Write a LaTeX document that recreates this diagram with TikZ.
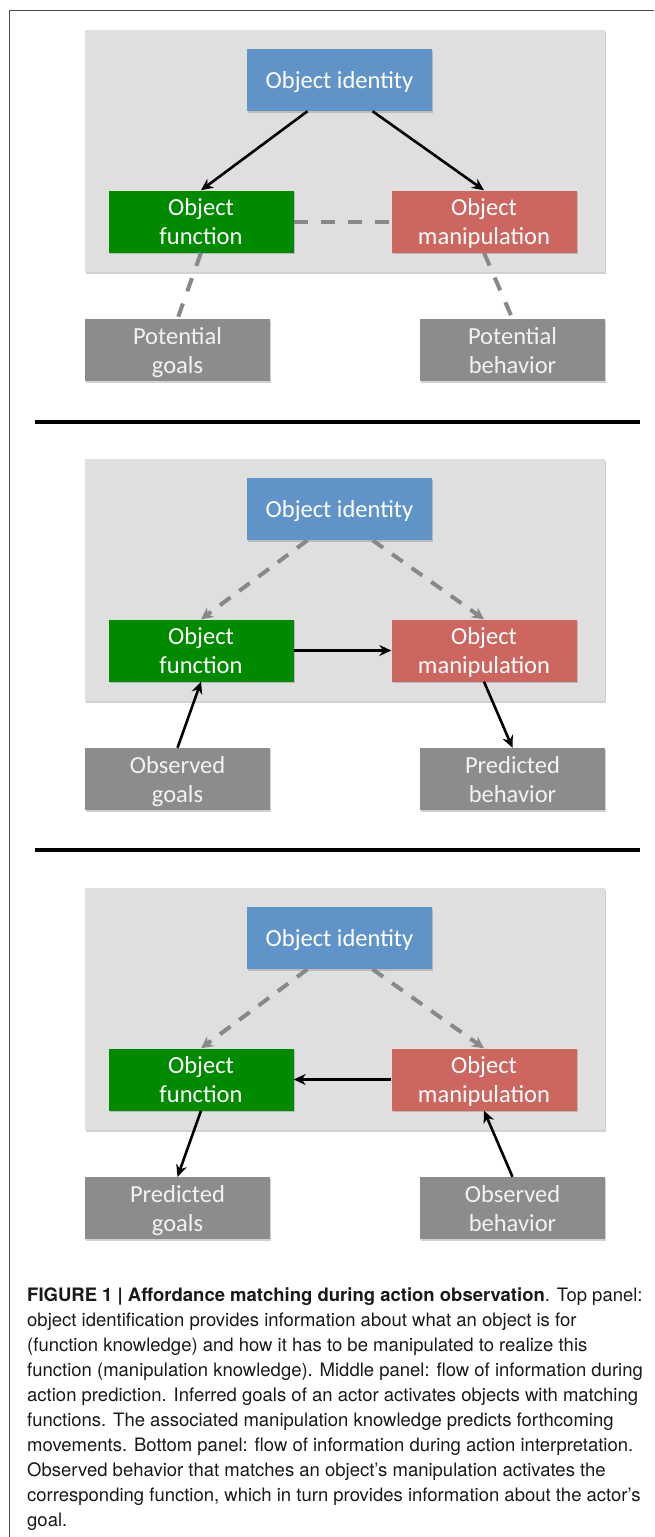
\documentclass[tikz,border=0pt]{standalone}
\usepackage{fontspec}
\setmainfont{Carlito}
\newfontfamily\capfont{TeX Gyre Heros}
\usetikzlibrary{positioning,arrows.meta,shadows}

\definecolor{identblue}{RGB}{96,148,201}
\definecolor{funcgreen}{RGB}{0,138,0}
\definecolor{manipered}{RGB}{205,102,95}
\definecolor{outgray}{RGB}{140,140,140}
\definecolor{panelgray}{RGB}{223,223,223}
\definecolor{dashgray}{RGB}{136,136,136}

\begin{document}
\begin{tikzpicture}[x=1pt,y=-1pt,
			panel/.style={rectangle, fill=panelgray, minimum width=520pt, minimum height=242pt, inner sep=0pt,
				drop shadow={shadow xshift=0.5pt, shadow yshift=-1.5pt, opacity=0.3, fill=black!60}},
			box/.style={rectangle, minimum width=185pt, minimum height=62pt, inner sep=0pt, align=center,
				text depth=0pt, text=white, font=\fontsize{24.5}{29}\selectfont,
				drop shadow={shadow xshift=1pt, shadow yshift=-1.5pt, opacity=0.3, fill=black!60}},
			identity/.style={box, fill=identblue},
			function/.style={box, fill=funcgreen},
			manipulation/.style={box, fill=manipered},
			outside/.style={box, fill=outgray, text=white!95!black},
			flow/.style={line width=2.6pt, -{Stealth[length=12pt, width=11pt]}},
			link/.style={line width=4pt, draw=dashgray, dash pattern=on 14pt off 13pt},
			weakflow/.style={line width=4pt, draw=dashgray, dash pattern=on 13pt off 11pt,
				-{Stealth[length=12pt, width=12pt, fill=dashgray]}},
			divider/.style={line width=4pt, draw=black},
			]
			\useasboundingbox (0,0) rectangle (654,1537);
			%Frame
				\draw[black!70, line width=1pt] (9,1537) -- (9,10) -- (654,10);

			%Top panel
				\node[panel]		(panel-1)		at (345,151)		{};
				\node[identity]		(identity-1)	at (339.5,80)		{Object identity};
				\node[function]		(function-1)	at (201,221.5)		{Object\\function};
				\node[manipulation]	(manip-1)		at (484,221.5)		{Object\\manipulation};
				\node[outside]		(goals-1)		at (177.5,350)		{Potential\\goals};
				\node[outside]		(behav-1)		at (512.5,350)		{Potential\\behavior};
				\draw[flow] ([xshift=-32pt]identity-1.south) -- (function-1.north);
				\draw[flow] ([xshift=33pt]identity-1.south) -- (manip-1.north);
				\draw[link] (function-1.east) -- (manip-1.west);
				\draw[link] (function-1.south) -- (goals-1.north);
				\draw[link] (manip-1.south) -- (behav-1.north);

				\coordinate (rule-1-l) at (35,422);
				\coordinate (rule-1-r) at (640,422);
				\draw[divider] (rule-1-l) -- (rule-1-r);

			%Middle panel
				\node[panel]		(panel-2)		at (345,580)		{};
				\node[identity]		(identity-2)	at (339.5,509)		{Object identity};
				\node[function]		(function-2)	at (201,650.5)		{Object\\function};
				\node[manipulation]	(manip-2)		at (484,650.5)		{Object\\manipulation};
				\node[outside]		(goals-2)		at (177.5,779)		{Observed\\goals};
				\node[outside]		(behav-2)		at (512.5,779)		{Predicted\\behavior};
				\draw[weakflow] ([xshift=-32pt]identity-2.south) -- (function-2.north);
				\draw[weakflow] ([xshift=33pt]identity-2.south) -- (manip-2.north);
				\draw[flow] (function-2.east) -- (manip-2.west);
				\draw[flow] (goals-2.north) -- (function-2.south);
				\draw[flow] (manip-2.south) -- (behav-2.north);

				\coordinate (rule-2-l) at (35,850);
				\coordinate (rule-2-r) at (640,850);
				\draw[divider] (rule-2-l) -- (rule-2-r);

			%Bottom panel
				\node[panel]		(panel-3)		at (345,1009)		{};
				\node[identity]		(identity-3)	at (339.5,938)		{Object identity};
				\node[function]		(function-3)	at (201,1079.5)		{Object\\function};
				\node[manipulation]	(manip-3)		at (484,1079.5)		{Object\\manipulation};
				\node[outside]		(goals-3)		at (177.5,1208)		{Predicted\\goals};
				\node[outside]		(behav-3)		at (512.5,1208)		{Observed\\behavior};
				\draw[weakflow] ([xshift=-32pt]identity-3.south) -- (function-3.north);
				\draw[weakflow] ([xshift=33pt]identity-3.south) -- (manip-3.north);
				\draw[flow] (manip-3.west) -- (function-3.east);
				\draw[flow] (function-3.south) -- (goals-3.north);
				\draw[flow] (behav-3.north) -- (manip-3.south);

			%Caption
				\node[anchor=north west, inner sep=0pt, align=left, text=black!90,
					font=\capfont\fontsize{18.5}{25}\selectfont] (caption) at (27,1287)
					{\textbf{FIGURE 1 | Affordance matching during action observation}. Top panel:\\
					object identification provides information about what an object is for\\
					(function knowledge) and how it has to be manipulated to realize this\\
					function (manipulation knowledge). Middle panel: flow of information during\\
					action prediction. Inferred goals of an actor activates objects with matching\\
					functions. The associated manipulation knowledge predicts forthcoming\\
					movements. Bottom panel: flow of information during action interpretation.\\
					Observed behavior that matches an object’s manipulation activates the\\
					corresponding function, which in turn provides information about the actor’s\\
					goal.};
		\end{tikzpicture}
\end{document}
